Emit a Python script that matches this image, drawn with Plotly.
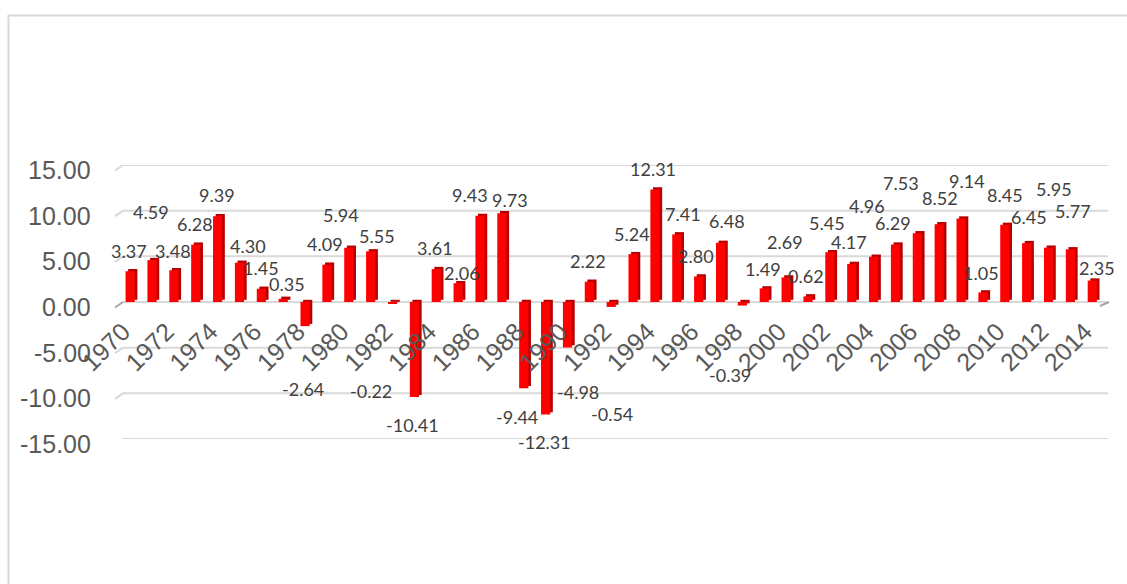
import plotly.graph_objects as go

# Annual growth rate, 1970-2014
years = list(range(1970, 2015))
growth = [
    3.37, 4.59, 3.48, 6.28, 9.39, 4.30, 1.45, 0.35, -2.64, 4.09,
    5.94, 5.55, -0.22, -10.41, 3.61, 2.06, 9.43, 9.73, -9.44, -12.31,
    -4.98, 2.22, -0.54, 5.24, 12.31, 7.41, 2.80, 6.48, -0.39, 1.49,
    2.69, 0.62, 5.45, 4.17, 4.96, 6.29, 7.53, 8.52, 9.14, 1.05,
    8.45, 6.45, 5.95, 5.77, 2.35,
]
y_ticks = [-15, -10, -5, 0, 5, 10, 15]
x_ticks = years[::2]

# Pixel nudges of each data label from the end of its bar (dx right, dy down)
label_dx = [-1, -1, -1, -1, 0, 9, 0, 4, -2, -2,
            -8, 7, -21, -2, -1, 4, -10, 8, -7, -1,
            11, -1, 1, -1, -2, 6, -2, 7, -12, -1,
            -1, -2, -3, -3, -6, -2, -16, 1, 6, -2,
            0, 3, 6, 3, 5]
label_dy = [-20, -48, -19, -21, -21, -17, -21, -15, 63, -21,
            -33, -15, 87, 28, -21, -10, -21, -13, 29, 28,
            45, -21, 107, -20, -21, -20, -20, -22, 69, -19,
            -35, -20, -29, -22, -51, -22, -50, -26, -38, -19,
            -30, -26, -59, -38, -13]

W, H = 1127, 584
L, R, T, B = 119, 1103, 165, 439
YMIN, YMAX = -15, 15
px_per_unit = (B - T) / (YMAX - YMIN)
px_per_year = (R - L) / len(years)


def px_x(px):
    return (px - L) / (R - L)


def px_y(py):
    return (B - py) / (B - T)


GRID = "#d9d9d9"
AXIS_TXT = "#595959"
LABEL_TXT = "#404040"
depth = 2.2 / px_per_unit
# year labels are slanted and end just left of their column
year_label_shift = -7 / px_per_year

fig = go.Figure()

# side/back face of each 3-D column
fig.add_trace(go.Bar(
    x=years, y=growth, base=depth, offset=-0.08, width=0.42,
    marker=dict(color="#B80000", line=dict(width=0)),
    hoverinfo="skip", showlegend=False,
))
# front face
fig.add_trace(go.Bar(
    x=years, y=growth, offset=-0.2, width=0.42,
    marker=dict(color="#FF0000", line=dict(width=0)),
    showlegend=False,
))

shapes = []
# chart border
shapes.append(dict(type="rect", xref="paper", yref="paper",
                   x0=px_x(8.5), x1=px_x(1140), y0=px_y(600), y1=px_y(15.5),
                   line=dict(color=GRID, width=2), layer="below"))
# gridlines on the back wall with the floor-edge stubs on the left
for v in y_ticks:
    shapes.append(dict(type="line", xref="paper", yref="y",
                       x0=px_x(123), x1=px_x(1108), y0=v, y1=v,
                       line=dict(color=GRID, width=2), layer="below"))
    shapes.append(dict(type="line", xref="paper", yref="y",
                       x0=px_x(115), x1=px_x(123),
                       y0=v - 5.5 / px_per_unit, y1=v,
                       line=dict(color=GRID if v else "#a6a6a6", width=2),
                       layer="below"))
# floor edge on the right of the zero line
shapes.append(dict(type="line", xref="paper", yref="y",
                   x0=px_x(1100), x1=px_x(1109),
                   y0=-4 / px_per_unit, y1=0,
                   line=dict(color="#a6a6a6", width=2), layer="below"))

annotations = []
# value axis labels, set slightly below their gridlines
for v in y_ticks:
    annotations.append(dict(
        xref="paper", yref="y", x=px_x(93), y=v, yshift=-5,
        text=f"{v:.2f}", showarrow=False, xanchor="right", yanchor="middle",
        font=dict(family="Liberation Sans, Arial", size=25, color=AXIS_TXT),
    ))
# data labels
for yr, v, dx, dy in zip(years, growth, label_dx, label_dy):
    annotations.append(dict(
        x=yr, y=v, xshift=dx, yshift=-dy,
        text=f"{v:.2f}", showarrow=False, xanchor="center", yanchor="middle",
        font=dict(family="Lato, Carlito, Calibri, sans-serif", size=18,
                  color=LABEL_TXT),
    ))

fig.update_layout(
    width=W, height=H,
    margin=dict(l=L, r=W - R, t=T, b=H - B, pad=0),
    paper_bgcolor="white", plot_bgcolor="white",
    barmode="overlay",
    shapes=shapes, annotations=annotations,
    showlegend=False,
    xaxis=dict(
        range=[years[0] - 0.5, years[-1] + 0.5],
        tickvals=[y + year_label_shift for y in x_ticks],
        ticktext=[str(y) for y in x_ticks],
        tickangle=-45, showgrid=False, zeroline=False, showline=False,
        ticks="", anchor="free", position=0.5, ticklabelstandoff=9,
        tickfont=dict(family="Liberation Sans, Arial", size=25, color=AXIS_TXT),
    ),
    yaxis=dict(
        range=[YMIN, YMAX], showgrid=False, zeroline=False,
        showticklabels=False, ticks="", showline=False,
    ),
)

fig.write_html("out.html")
